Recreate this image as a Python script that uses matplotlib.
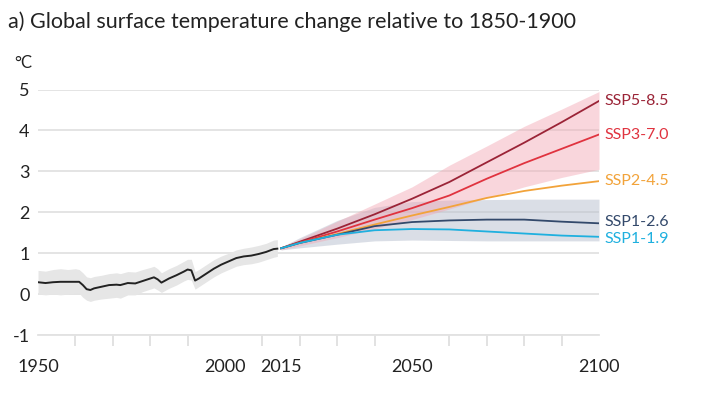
import numpy as np
import matplotlib
matplotlib.use("Agg")
import matplotlib.pyplot as plt

plt.rcParams['font.family'] = ['Lato', 'DejaVu Sans']

# ---- historical data ----
hist_years = [1950, 1952, 1954, 1956, 1958, 1960, 1961, 1962, 1963, 1964, 1965, 1967, 1969,
              1971, 1972, 1974, 1976, 1978, 1980, 1981, 1982, 1983, 1985, 1987, 1989, 1990,
              1991, 1992, 1993, 1995, 1997, 1999, 2001, 2003, 2005, 2007, 2009, 2011, 2013, 2014]
hist_vals = [0.29, 0.27, 0.29, 0.30, 0.30, 0.30, 0.30, 0.22, 0.12, 0.10, 0.14, 0.18, 0.22,
             0.23, 0.22, 0.27, 0.26, 0.32, 0.38, 0.41, 0.36, 0.28, 0.38, 0.46, 0.55, 0.60,
             0.58, 0.33, 0.38, 0.50, 0.62, 0.72, 0.80, 0.88, 0.92, 0.94, 0.98, 1.03, 1.10, 1.11]
hist_hi = [0.58, 0.56, 0.60, 0.62, 0.60, 0.62, 0.60, 0.52, 0.42, 0.40, 0.43, 0.46, 0.50,
           0.52, 0.50, 0.55, 0.54, 0.60, 0.65, 0.68, 0.62, 0.52, 0.62, 0.70, 0.80, 0.85,
           0.85, 0.55, 0.60, 0.72, 0.84, 0.93, 1.00, 1.08, 1.12, 1.15, 1.19, 1.24, 1.32, 1.33]
hist_lo = [0.00, -0.02, 0.00, -0.02, 0.00, 0.02, 0.02, -0.08, -0.15, -0.18, -0.15, -0.12, -0.10,
           -0.08, -0.10, -0.02, -0.02, 0.06, 0.12, 0.15, 0.10, 0.04, 0.14, 0.22, 0.32, 0.36,
           0.34, 0.12, 0.18, 0.30, 0.42, 0.52, 0.60, 0.68, 0.72, 0.74, 0.78, 0.84, 0.90, 0.92]

# ---- projections ----
proj_years = [2015, 2020, 2030, 2040, 2050, 2060, 2070, 2080, 2090, 2100]
ssp585 = [1.12, 1.28, 1.60, 1.95, 2.33, 2.74, 3.22, 3.70, 4.20, 4.72]
ssp370 = [1.12, 1.26, 1.53, 1.82, 2.10, 2.41, 2.82, 3.20, 3.55, 3.90]
ssp245 = [1.12, 1.25, 1.47, 1.70, 1.92, 2.13, 2.35, 2.52, 2.65, 2.76]
ssp126 = [1.12, 1.25, 1.45, 1.66, 1.76, 1.80, 1.82, 1.82, 1.77, 1.73]
ssp119 = [1.12, 1.25, 1.45, 1.56, 1.59, 1.58, 1.53, 1.48, 1.43, 1.40]

ssp370_hi = [1.15, 1.35, 1.78, 2.20, 2.62, 3.15, 3.62, 4.10, 4.52, 4.95]
ssp370_lo = [1.08, 1.18, 1.38, 1.60, 1.82, 2.08, 2.35, 2.62, 2.85, 3.05]
ssp126_hi = [1.15, 1.38, 1.80, 2.12, 2.26, 2.30, 2.31, 2.32, 2.32, 2.32]
ssp126_lo = [1.08, 1.13, 1.22, 1.30, 1.32, 1.31, 1.30, 1.30, 1.30, 1.30]

scenario_names = ['SSP5-8.5', 'SSP3-7.0', 'SSP2-4.5', 'SSP1-2.6', 'SSP1-1.9']
label_y = [4.72, 3.90, 2.76, 1.76, 1.34]

y_ticks = [-1, 0, 1, 2, 3, 4, 5]
x_minor = list(range(1950, 2101, 10))
x_labeled = [1950, 2000, 2015, 2050, 2100]

colors = ['#9b2437', '#e0333f', '#f2a33a', '#33496b', '#1fb0df']

fig = plt.figure(figsize=(7.2, 4.0), dpi=100)
ax = fig.add_axes([38/720, 1-335/400, (599-38)/720, (335-89.5)/400])

# bands
ax.fill_between(hist_years, hist_lo, hist_hi, color='#e6e6e6', lw=0, zorder=1)
ax.fill_between(proj_years, ssp126_lo, ssp126_hi, color='#b7bfce', alpha=0.5, lw=0, zorder=1)
ax.fill_between(proj_years, ssp370_lo, ssp370_hi, color='#f2a6b3', alpha=0.45, lw=0, zorder=1)

# lines
ax.plot(hist_years, hist_vals, color='#222222', lw=1.4, zorder=3)
series = [ssp585, ssp370, ssp245, ssp126, ssp119]
for s, c in zip(series, colors):
    ax.plot(proj_years, s, color=c, lw=1.3, zorder=3)

for name, yv, c in zip(scenario_names, label_y, colors):
    ax.text(2101.5, yv, name, color=c, fontsize=11.5, va='center', ha='left')

ax.set_xlim(1950, 2100)
ax.set_ylim(-1, 5)
ax.set_yticks(y_ticks)
ax.set_yticklabels([str(v) for v in y_ticks])
ax.tick_params(axis='y', length=0, pad=6, labelsize=13, labelcolor='#222222')
ax.grid(axis='y', color='#e2e2e2', lw=1.3, zorder=0)
ax.set_axisbelow(True)

ax.set_xticks(x_labeled)
ax.set_xticklabels([str(v) for v in x_labeled])
ax.set_xticks(x_minor, minor=True)
ax.tick_params(axis='x', which='major', length=0, pad=17, labelsize=13, labelcolor='#222222')
ax.tick_params(axis='x', which='minor', length=8, width=1.2, color='#dddddd')

for sp in ['top', 'right', 'left']:
    ax.spines[sp].set_visible(False)
ax.spines['bottom'].set_color('#e2e2e2')
ax.spines['bottom'].set_linewidth(1.3)

fig.text(8/720, 1-22/400, 'a) Global surface temperature change relative to 1850-1900',
         fontsize=15.5, color='#222222', va='center', ha='left')
fig.text(14/720, 1-63/400, '°C', fontsize=12, color='#222222', va='center', ha='left')

fig.savefig('out.png', dpi=100)
